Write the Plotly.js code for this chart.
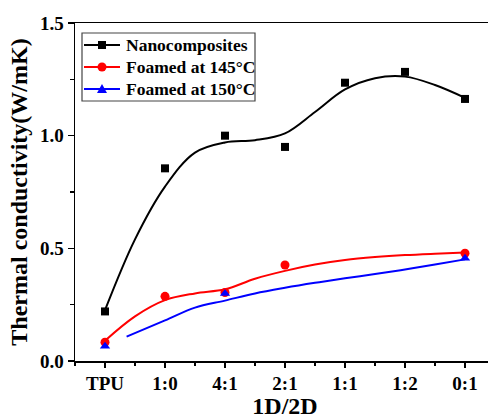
<!DOCTYPE html>
<html>
<head>
<meta charset="utf-8">
<script src="https://cdn.plot.ly/plotly-3.0.1.min.js"></script>
<style>
html,body{margin:0;padding:0;overflow:hidden;background:#fff;}
#chart{width:496px;height:419px;}
</style>
</head>
<body>
<div id="chart"></div>
<script>
// Categories (x positions 0..6)
var categories = ["TPU", "1:0", "4:1", "2:1", "1:1", "1:2", "0:1"];
var catPos = [0, 1, 2, 3, 4, 5, 6];

// Measured points
var nanoValues = [0.22, 0.855, 1.00, 0.95, 1.235, 1.283, 1.163];
var foam145Pos = [0, 1, 2, 3, 6];
var foam145Values = [0.083, 0.287, 0.304, 0.426, 0.478];
var foam150Pos = [0, 2, 6];
var foam150Values = [0.065, 0.300, 0.456];

// Fitted curves
var nanoCurveX = [0, 0.5, 1, 1.5, 2, 2.5, 3, 3.5, 4, 4.5, 5, 5.5, 6];
var nanoCurveY = [0.226, 0.54, 0.774, 0.925, 0.970, 0.980, 1.010, 1.105, 1.205, 1.255, 1.262, 1.225, 1.168];
var foam145CurveX = [0, 0.5, 1, 1.5, 2, 2.5, 3, 3.5, 4, 4.5, 5, 5.5, 6];
var foam145CurveY = [0.09, 0.198, 0.270, 0.300, 0.318, 0.365, 0.400, 0.428, 0.448, 0.461, 0.470, 0.476, 0.481];
var foam150CurveX = [0.36, 1, 1.5, 2, 2.5, 3, 3.5, 4, 4.5, 5, 5.5, 6];
var foam150CurveY = [0.108, 0.180, 0.237, 0.268, 0.300, 0.325, 0.347, 0.367, 0.386, 0.406, 0.428, 0.451];

var seriesNames = ["Nanocomposites", "Foamed at 145\u00B0C", "Foamed at 150\u00B0C"];
var seriesColors = ["#000000", "#ff0000", "#0000ff"];
var seriesSymbols = ["square", "circle", "triangle-up"];

var yTickVals = [0, 0.5, 1.0, 1.5];
var yTickText = ["0.0", "0.5", "1.0", "1.5"];

var FONT = "Liberation Serif, Times New Roman, serif";

var W = 496, H = 419, ML = 75, MR = 1, MT = 23, MB = 58;
var PW = W - ML - MR, PH = H - MT - MB;
function px(X) { return (X - ML) / PW; }
function py(Y) { return (H - MB - Y) / PH; }

var traces = [];
traces.push({x: nanoCurveX, y: nanoCurveY, mode: "lines", line: {color: seriesColors[0], width: 2, shape: "spline", smoothing: 1}, showlegend: false, hoverinfo: "skip"});
traces.push({x: foam145CurveX, y: foam145CurveY, mode: "lines", line: {color: seriesColors[1], width: 2, shape: "spline", smoothing: 1}, showlegend: false, hoverinfo: "skip"});
traces.push({x: foam150CurveX, y: foam150CurveY, mode: "lines", line: {color: seriesColors[2], width: 2, shape: "spline", smoothing: 1}, showlegend: false, hoverinfo: "skip"});
traces.push({x: catPos, y: nanoValues, mode: "markers", name: seriesNames[0], marker: {symbol: seriesSymbols[0], size: 8, color: seriesColors[0]}, showlegend: false});
traces.push({x: foam145Pos, y: foam145Values, mode: "markers", name: seriesNames[1], marker: {symbol: seriesSymbols[1], size: 9, color: seriesColors[1]}, showlegend: false});
traces.push({x: foam150Pos, y: foam150Values, mode: "markers", name: seriesNames[2], marker: {symbol: seriesSymbols[2], size: 9, color: seriesColors[2]}, showlegend: false});

// Manual legend (box, line samples, symbols, labels)
var shapes = [];
var annotations = [];
shapes.push({type: "rect", xref: "paper", yref: "paper", x0: px(82), x1: px(255), y0: py(101), y1: py(33),
  line: {color: "#444", width: 1.2}, fillcolor: "#fff", layer: "above"});
var rowY = [45, 67, 89];
for (var i = 0; i < 3; i++) {
  var yc = rowY[i];
  shapes.push({type: "line", xref: "paper", yref: "paper", x0: px(84), x1: px(120), y0: py(yc), y1: py(yc),
    line: {color: seriesColors[i], width: 2}, layer: "above"});
  if (seriesSymbols[i] === "square") {
    shapes.push({type: "rect", xref: "paper", yref: "paper", x0: px(98), x1: px(106), y0: py(yc + 4), y1: py(yc - 4),
      line: {width: 0}, fillcolor: seriesColors[i], layer: "above"});
  } else if (seriesSymbols[i] === "circle") {
    shapes.push({type: "circle", xref: "paper", yref: "paper", x0: px(97.5), x1: px(106.5), y0: py(yc + 4.5), y1: py(yc - 4.5),
      line: {width: 0}, fillcolor: seriesColors[i], layer: "above"});
  } else {
    var p = "M" + px(97) + "," + py(yc + 4) + " L" + px(107) + "," + py(yc + 4) + " L" + px(102) + "," + py(yc - 5) + " Z";
    shapes.push({type: "path", xref: "paper", yref: "paper", path: p,
      line: {width: 0}, fillcolor: seriesColors[i], layer: "above"});
  }
  annotations.push({xref: "paper", yref: "paper", x: px(124), y: py(yc), xanchor: "left", yanchor: "middle",
    text: seriesNames[i], showarrow: false,
    font: {family: FONT, size: 17.5, color: "#000", weight: "bold"}});
}

var layout = {
  width: W, height: H,
  margin: {l: ML, r: MR, t: MT, b: MB},
  paper_bgcolor: "#fff", plot_bgcolor: "#fff",
  font: {family: FONT, color: "#000", weight: "bold"},
  showlegend: false,
  shapes: shapes,
  annotations: annotations,
  xaxis: {
    range: [-0.5, 6.5],
    tickmode: "array", tickvals: catPos, ticktext: categories,
    ticks: "outside", ticklen: 5, tickwidth: 1.5, tickcolor: "#000",
    minor: {tickmode: "array", tickvals: [-0.5, 0.5, 1.5, 2.5, 3.5, 4.5, 5.5], ticks: "outside", ticklen: 3, tickwidth: 1.5, tickcolor: "#000"},
    showline: true, linewidth: 1.5, linecolor: "#000", mirror: true,
    showgrid: false, zeroline: false,
    tickfont: {family: FONT, size: 19, color: "#000", weight: "bold"},
    title: {text: "1D/2D", font: {family: FONT, size: 24, color: "#000", weight: "bold"}, standoff: 11}
  },
  yaxis: {
    range: [0, 1.5],
    tickmode: "array", tickvals: yTickVals, ticktext: yTickText,
    ticks: "outside", ticklen: 6, tickwidth: 1.5, tickcolor: "#000",
    minor: {tickmode: "array", tickvals: [0.25, 0.75, 1.25], ticks: "outside", ticklen: 4, tickwidth: 1.5, tickcolor: "#000"},
    showline: true, linewidth: 1.5, linecolor: "#000", mirror: true,
    showgrid: false, zeroline: false,
    tickfont: {family: FONT, size: 19, color: "#000", weight: "bold"},
    title: {text: "Thermal conductivity(W/mK)", font: {family: FONT, size: 24, color: "#000", weight: "bold"}, standoff: 5}
  }
};

Plotly.newPlot("chart", traces, layout, {displayModeBar: false, staticPlot: true});
</script>
</body>
</html>
